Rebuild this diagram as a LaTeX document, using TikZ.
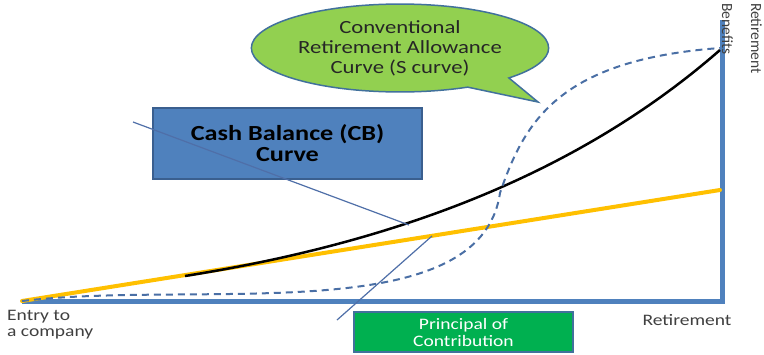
\documentclass[tikz,border=0pt]{standalone}
\usepackage{fontspec}
\setmainfont{Carlito}
\newfontfamily\wfont{Carlito}[FakeStretch=1.22]
\usetikzlibrary{shapes.callouts}
\definecolor{axisblue}{HTML}{4F81BD}
\definecolor{boxblue}{HTML}{4F81BD}
\definecolor{boxedge}{HTML}{3A5F8F}
\definecolor{calloutgreen}{HTML}{92D050}
\definecolor{calloutedge}{HTML}{41719C}
\definecolor{boxgreen}{HTML}{00B050}
\definecolor{sblue}{HTML}{4A6FA5}
\definecolor{pointerblue}{HTML}{4F6FA8}
\definecolor{cbgold}{HTML}{FFC000}
\definecolor{labelgray}{HTML}{404040}
\begin{document}
\begin{tikzpicture}[x=1pt,y=-1pt,
  axisline/.style={draw=axisblue,line width=5pt,line join=miter},
  contribline/.style={draw=cbgold,line width=4pt,line cap=round},
  cbcurve/.style={draw=black,line width=2.5pt},
  scurve/.style={draw=sblue,line width=2pt,dash pattern=on 7pt off 5pt},
  pointer/.style={draw=pointerblue,line width=1.2pt},
  axislabel/.style={text=labelgray,inner sep=0pt,font=\wfont\fontsize{16}{16}\selectfont},
  cbbox/.style={draw=boxedge,line width=1.5pt,fill=boxblue,minimum width=269pt,minimum height=71pt,align=center,
    font=\wfont\bfseries\fontsize{21.5}{21}\selectfont},
  pcbox/.style={draw=calloutedge,line width=1.5pt,fill=boxgreen,minimum width=219pt,minimum height=40pt,align=center,
    text=white,font=\wfont\fontsize{16}{17}\selectfont},
  bubble/.style={ellipse callout,draw=calloutedge,line width=1.5pt,fill=calloutgreen,minimum width=294pt,minimum height=80pt,
    align=center,callout pointer arc=20,font=\wfont\fontsize{18.6}{20}\selectfont,text=black!85}]
\useasboundingbox[fill=white] (0,0) rectangle (764,354);

% axes
\coordinate (origin) at (22,301);
\coordinate (xend) at (722,301);
\coordinate (yend) at (722,20);
\draw[axisline] (origin) -- (xend) -- (yend);

% principal of contribution: straight line
\coordinate (pcend) at (720,190);
\draw[contribline] (origin) -- (pcend);

% cash balance curve, leaving the straight line and rising steeply
\coordinate (cbstart) at (185,276);
\coordinate (topend) at (720,50);
\draw[cbcurve] (cbstart) .. controls (360,248) and (560,190) .. (topend);

% conventional S curve: flat start, steep middle, flat top
\coordinate (sturn) at (500,193);
\coordinate (stop) at (720,48);
\draw[scurve] (origin) .. controls (200,280) and (480,330) .. (sturn)
              .. controls (525,120) and (560,60) .. (stop);

% cash balance label and its pointer
\node[cbbox] (cb) at (287.5,143.5) {Cash Balance (CB)\\Curve};
\coordinate (cbfrom) at (133,122);
\coordinate (cbto) at (409,225);
\draw[pointer] (cbfrom) -- (cbto);

% principal label and its pointer
\node[pcbox] (pc) at (463.5,332) {Principal of\\Contribution};
\coordinate (pcfrom) at (337,320);
\coordinate (pcto) at (432,236);
\draw[pointer] (pcfrom) -- (pcto);

% callout for the S curve
\coordinate (stip) at (538,102);
\node[bubble,callout absolute pointer={(stip)}] (conv) at (400,48) {Conventional\\Retirement Allowance\\Curve (S curve)};

% axis labels
\node[axislabel,anchor=west,align=left] (entry) at (7,325) {Entry to\\a company};
\node[axislabel] (retire) at (687,320) {Retirement};
\node[text=labelgray,inner sep=0pt,rotate=-90,anchor=north west,align=left,font=\fontsize{15.5}{29}\selectfont] (benefit) at (762,3) {Retirement\\Benefits};
\end{tikzpicture}
\end{document}
